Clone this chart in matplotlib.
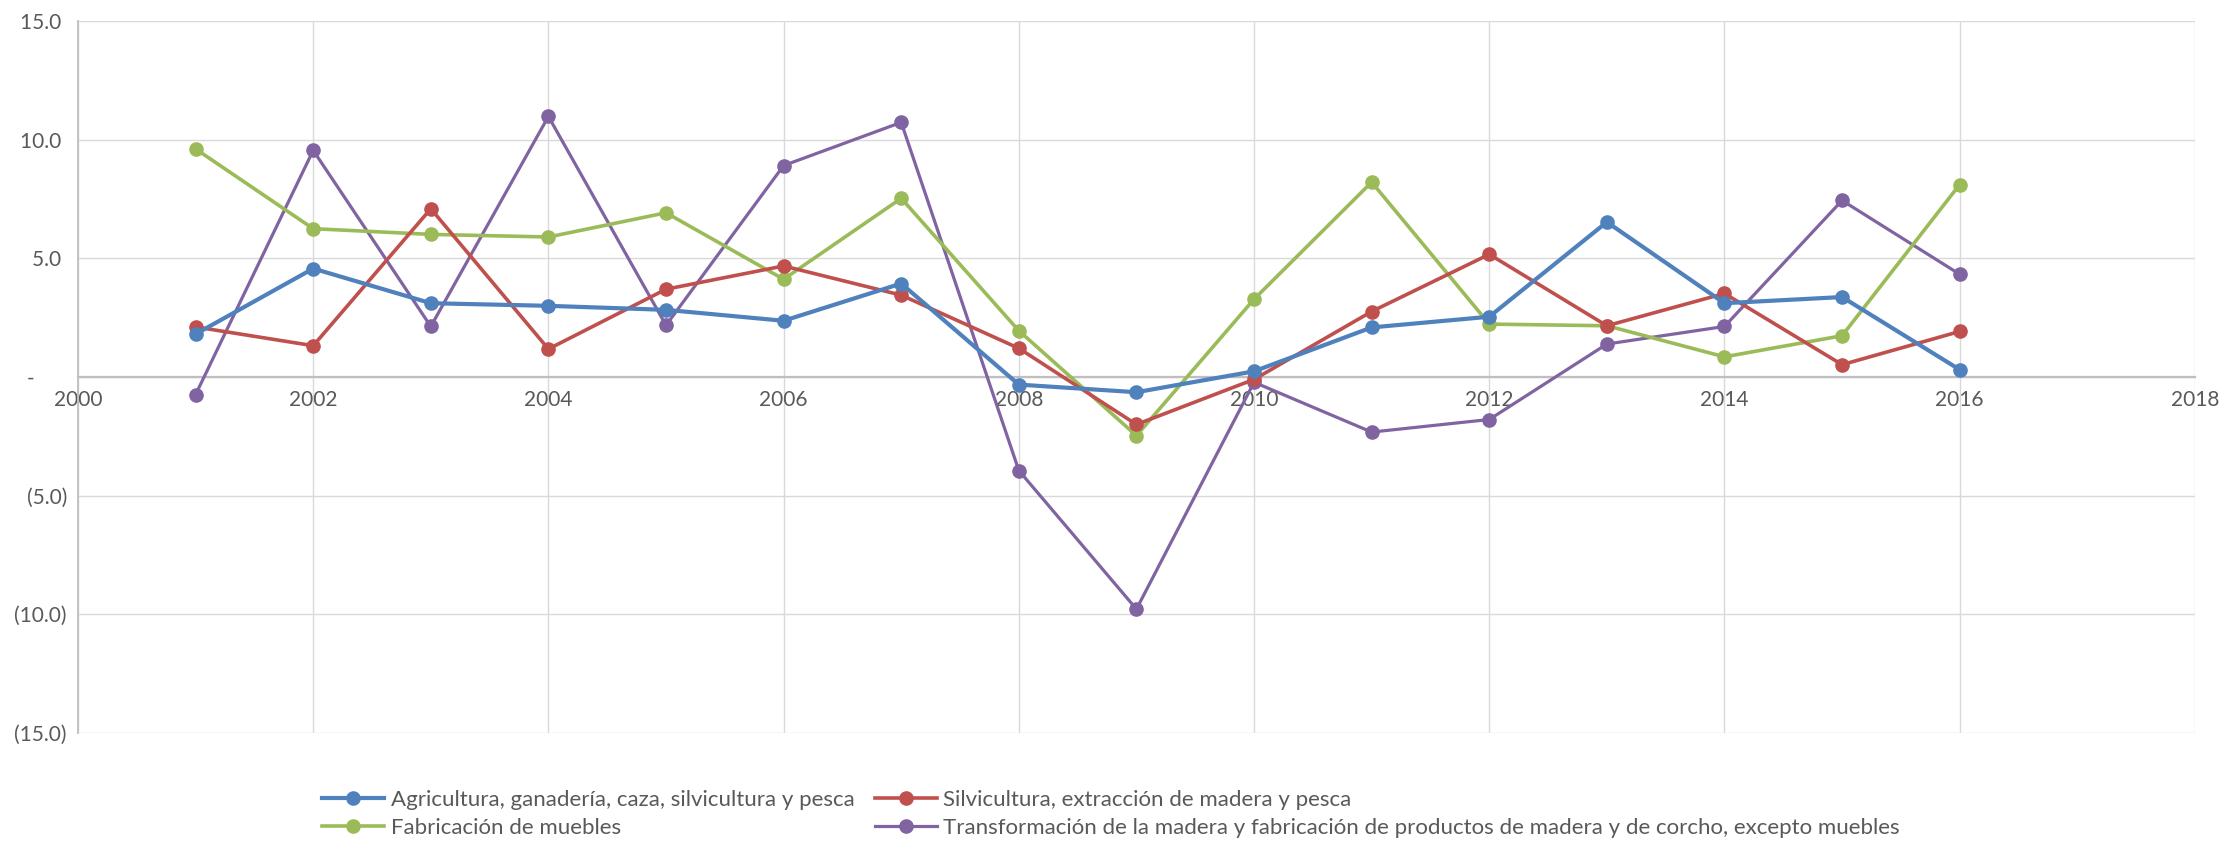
import matplotlib.pyplot as plt
from matplotlib.ticker import FuncFormatter

plt.rcParams['font.family'] = ['Lato', 'DejaVu Sans']

years = list(range(2001, 2017))

agricultura = [1.81, 4.57, 3.11, 3.00, 2.83, 2.37, 3.94, -0.32,
               -0.64, 0.24, 2.09, 2.54, 6.53, 3.11, 3.37, 0.31]
silvicultura = [2.11, 1.32, 7.09, 1.18, 3.70, 4.68, 3.45, 1.21,
                -2.00, -0.10, 2.76, 5.17, 2.16, 3.52, 0.52, 1.92]
muebles = [9.61, 6.25, 6.01, 5.90, 6.92, 4.12, 7.53, 1.95,
           -2.47, 3.28, 8.21, 2.23, 2.16, 0.85, 1.74, 8.11]
transformacion = [-0.74, 9.55, 2.13, 10.98, 2.18, 8.91, 10.73, -3.94,
                  -9.78, -0.22, -2.32, -1.79, 1.39, 2.13, 7.44, 4.33]

labels = [
    "Agricultura, ganadería, caza, silvicultura y pesca",
    "Silvicultura, extracción de madera y pesca",
    "Fabricación de muebles",
    "Transformación de la madera y fabricación de productos de madera y de corcho, excepto muebles",
]
colors = ["#4F81BD", "#C0504D", "#9BBB59", "#8064A2"]

fig = plt.figure(figsize=(22.22, 8.41), dpi=100)
ax = fig.add_axes([0.0351, 0.1284, 0.9527, 0.8466])

series = [agricultura, silvicultura, muebles, transformacion]
widths = [3.0, 2.6, 2.6, 2.3]
zord = [6, 5, 4, 3]
handles = []
for vals, lab, col, lw, z in zip(series, labels, colors, widths, zord):
    h, = ax.plot(years, vals, color=col, lw=lw, marker='o', markersize=9.5,
                 label=lab, zorder=z)
    handles.append(h)

ax.set_xlim(2000, 2018)
ax.set_ylim(-15, 15)
ax.set_xticks(range(2000, 2019, 2))
ax.set_yticks([-15, -10, -5, 0, 5, 10, 15])


def yfmt(v, pos):
    if abs(v) < 1e-9:
        return "-      "
    if v < 0:
        return "({:.1f})".format(-v)
    return "{:.1f} ".format(v)


ax.yaxis.set_major_formatter(FuncFormatter(yfmt))

ax.grid(True, color="#D9D9D9", lw=1.0, zorder=0)
ax.set_axisbelow(True)
for s in ['top', 'right']:
    ax.spines[s].set_visible(False)
ax.spines['left'].set_color("#BFBFBF")
ax.spines['left'].set_linewidth(1.3)
ax.spines['bottom'].set_position(('data', 0))
ax.spines['bottom'].set_color("#BFBFBF")
ax.spines['bottom'].set_linewidth(1.6)
ax.tick_params(axis='both', length=0, labelsize=15, labelcolor="#595959")
ax.tick_params(axis='x', pad=9)
ax.tick_params(axis='y', pad=8)

order = [0, 2, 1, 3]
fig.legend([handles[i] for i in order], [labels[i] for i in order],
           loc='center', bbox_to_anchor=(0.5, 0.032), ncol=2, frameon=False,
           fontsize=16, labelcolor="#595959", handlelength=2.8,
           handletextpad=0.3, columnspacing=0.9, labelspacing=0.35,
           borderpad=0)

fig.savefig("out.png", dpi=100)
